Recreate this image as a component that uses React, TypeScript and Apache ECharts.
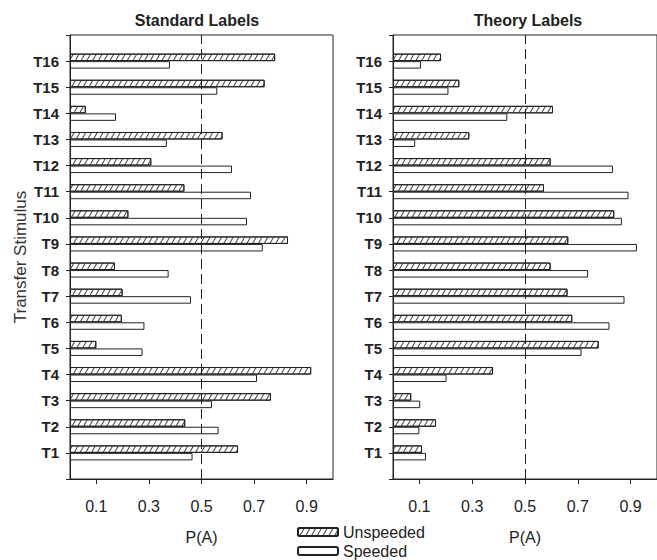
import React, { useEffect, useRef } from "react";
import * as echarts from "echarts";

const categories = ["T1","T2","T3","T4","T5","T6","T7","T8","T9","T10","T11","T12","T13","T14","T15","T16"];
const stdUnspeeded = [0.639, 0.438, 0.764, 0.917, 0.10, 0.197, 0.20, 0.171, 0.829, 0.222, 0.435, 0.309, 0.58, 0.06, 0.74, 0.78];
const stdSpeeded = [0.466, 0.565, 0.54, 0.711, 0.276, 0.283, 0.46, 0.375, 0.733, 0.673, 0.688, 0.616, 0.368, 0.175, 0.56, 0.38];
const thUnspeeded = [0.11, 0.163, 0.069, 0.379, 0.779, 0.679, 0.661, 0.597, 0.664, 0.838, 0.572, 0.597, 0.289, 0.606, 0.251, 0.182];
const thSpeeded = [0.125, 0.10, 0.103, 0.203, 0.714, 0.82, 0.877, 0.739, 0.924, 0.867, 0.892, 0.833, 0.084, 0.433, 0.21, 0.106];
const tickValues = [0.1, 0.3, 0.5, 0.7, 0.9];
const panelTitles = ["Standard Labels", "Theory Labels"];
const seriesNames = ["Unspeeded", "Speeded"];

const FONT = '"Liberation Sans", Arial, sans-serif';
const INK = "#222";

export default function App() {
  const ref = useRef<HTMLDivElement>(null);
  useEffect(() => {
    if (!ref.current) return;
    const chart = echarts.init(ref.current, null, { renderer: "svg" });
    const axisCats = ["", ...categories, ""];
    const pad = (a: number[]) => [null, ...a, null];
    const hatch = {
      symbol: "rect",
      symbolSize: 1,
      dashArrayX: [1, 0],
      dashArrayY: [1, 4],
      rotation: -Math.PI / 3,
      color: "#444",
      backgroundColor: "#fff",
    };
    const grids = [
      { left: 70, top: 35, width: 263, height: 444 },
      { left: 393, top: 35, width: 265, height: 444 },
    ];
    const xAxes = grids.map((_, i) => ({
      type: "value",
      gridIndex: i,
      min: 0,
      max: 1,
      name: "P(A)",
      nameLocation: "middle",
      nameGap: 50,
      nameTextStyle: { fontSize: 16, color: INK, fontFamily: FONT },
      axisLine: { show: true, lineStyle: { color: INK, width: 1 } },
      axisTick: { show: true, length: 5, customValues: tickValues, lineStyle: { color: INK } },
      axisLabel: { customValues: tickValues, margin: 19, fontSize: 16, color: INK, fontFamily: FONT, formatter: (v: number) => v.toFixed(1) },
      splitLine: { show: false },
    }));
    const yAxes = grids.map((_, i) => ({
      type: "category",
      gridIndex: i,
      data: axisCats,
      boundaryGap: false,
      name: i === 0 ? "Transfer Stimulus" : "",
      nameLocation: "middle",
      nameRotate: 90,
      nameGap: 41,
      nameTextStyle: { fontSize: 17, color: "#333", fontFamily: FONT },
      axisLine: { show: true, lineStyle: { color: INK, width: 1 } },
      axisTick: { show: true, length: 4, interval: 0, lineStyle: { color: INK } },
      axisLabel: { interval: 0, margin: 11, fontSize: 15, fontWeight: "bold", color: INK, fontFamily: FONT },
      splitLine: { show: false },
    }));
    const mk = {
      silent: true,
      symbol: "none",
      label: { show: false },
      lineStyle: { color: INK, type: [10, 5], width: 1 },
      data: [{ xAxis: 0.5 }],
    };
    const sets = [
      [stdUnspeeded, stdSpeeded],
      [thUnspeeded, thSpeeded],
    ];
    const series: any[] = [];
    sets.forEach(([u, s], i) => {
      series.push({
        name: seriesNames[0],
        type: "bar",
        xAxisIndex: i,
        yAxisIndex: i,
        data: pad(u),
        barWidth: 7.5,
        barGap: "0%",
        itemStyle: { color: "#fff", borderColor: INK, borderWidth: 1, decal: hatch },
        markLine: mk,
      });
      series.push({
        name: seriesNames[1],
        type: "bar",
        xAxisIndex: i,
        yAxisIndex: i,
        data: pad(s),
        barWidth: 7.5,
        barGap: "0%",
        itemStyle: { color: "#fff", borderColor: INK, borderWidth: 1 },
      });
    });
    const legendBase = {
      orient: "vertical",
      left: 295,
      itemWidth: 40,
      itemHeight: 8,
      itemGap: 0,
      padding: 2,
      textStyle: { fontSize: 16, color: INK, fontFamily: FONT },
      selectedMode: false,
    };
    chart.setOption({
      animation: false,
      backgroundColor: "#fff",
      textStyle: { fontFamily: FONT },
      grid: grids.map((g) => ({ ...g, show: true, borderColor: INK, borderWidth: 1, backgroundColor: "transparent" })),
      xAxis: xAxes,
      yAxis: yAxes,
      legend: [
        { ...legendBase, data: [seriesNames[0]], top: 522 },
        { ...legendBase, data: [seriesNames[1]], top: 541 },
      ],
      graphic: [
        { type: "text", x: 197, y: 20, style: { text: panelTitles[0], fontSize: 16, fontWeight: "bold", fontFamily: FONT, fill: INK, textAlign: "center", textVerticalAlign: "middle" } },
        { type: "text", x: 528, y: 20, style: { text: panelTitles[1], fontSize: 16, fontWeight: "bold", fontFamily: FONT, fill: INK, textAlign: "center", textVerticalAlign: "middle" } },
      ],
      series,
    } as any);
    return () => chart.dispose();
  }, []);
  return <div ref={ref} style={{ position: "fixed", left: 0, top: 0, width: 657, height: 560 }} />;
}
